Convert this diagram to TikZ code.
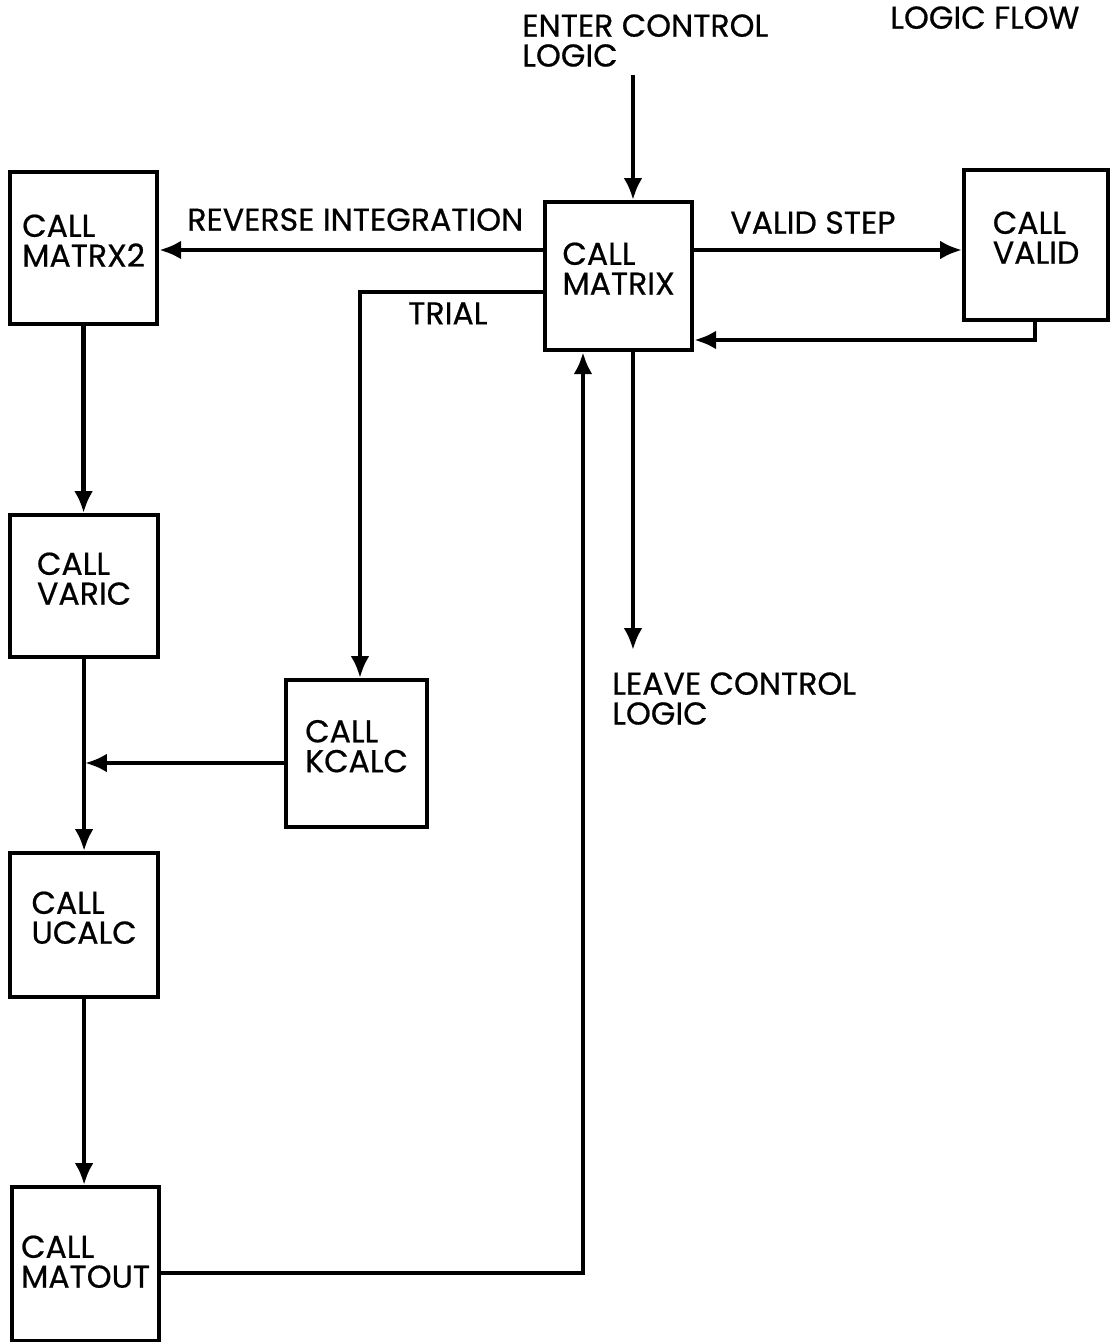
\documentclass[tikz,border=0pt]{standalone}
\usepackage{fontspec}
\setmainfont{Poppins}[FakeBold=0.6]
\usetikzlibrary{arrows.meta}

\begin{document}
\begin{tikzpicture}[
  x=0.02cm, y=-0.02cm,
  callbox/.style={
    rectangle,
    draw,
    line width=2.4pt,
    anchor=north west,
    align=left,
    text depth=0.3cm,
    font=\fontsize{18}{17}\selectfont
  },
  flow/.style={
    line width=2.6pt,
    -{Latex[length=0.44cm,width=0.38cm]}
  },
  flowtext/.style={
    anchor=north west,
    align=left,
    inner sep=0pt,
    font=\fontsize{18}{17}\selectfont
  }
]
  \useasboundingbox (0,0) rectangle (1110,1342);

  % the boxes
  \node[callbox, minimum width=2.94cm, minimum height=3.04cm] (matrx2) at (8,170) {CALL\\MATRX2};
  \node[callbox, minimum width=2.94cm, minimum height=2.96cm] (matrix) at (543,200) {CALL\\MATRIX};
  \node[callbox, minimum width=2.88cm, minimum height=3cm] (valid) at (962,168) {CALL\\VALID};
  \node[callbox, minimum width=2.96cm, minimum height=2.84cm] (varic) at (8,513) {CALL\\VARIC};
  \node[callbox, minimum width=2.82cm, minimum height=2.94cm] (kcalc) at (284,678) {CALL\\KCALC};
  \node[callbox, minimum width=2.96cm, minimum height=2.88cm] (ucalc) at (8,851) {CALL\\UCALC};
  \node[callbox, minimum width=2.94cm, minimum height=3.08cm, text depth=0.1cm] (matout) at (10,1185) {CALL\\MATOUT};

  % texts
  \node[flowtext] (enter) at (522,14) {ENTER CONTROL\\LOGIC};
  \node[flowtext] (leave) at (612,672) {LEAVE CONTROL\\LOGIC};
  \node[flowtext] (title) at (890,6) {LOGIC FLOW};
  \node[flowtext] (lrev) at (187,208) {REVERSE INTEGRATION};
  \node[flowtext] (lvalid) at (730,211) {VALID STEP};
  \node[flowtext] (ltrial) at (408,302) {TRIAL};

  % rows and columns of the connectors
  \coordinate (rowrev) at (0,250);
  \coordinate (rowtri) at (0,292);
  \coordinate (rowret) at (0,340);
  \coordinate (rowkc) at (0,763);
  \coordinate (rowmo) at (0,1273);
  \coordinate (colin) at (633,75);
  \coordinate (colout) at (633,650);
  \coordinate (colret) at (583,0);
  \coordinate (coltri) at (360,0);

  \draw[flow] (colin) -- (colin |- matrix.north);
  \draw[flow] (matrix.west |- rowrev) -- (matrx2.east |- rowrev);
  \draw[flow] (matrix.east |- rowrev) -- (valid.west |- rowrev);
  \draw[flow] (valid.south -| 1035,0) -- (rowret -| 1035,0) -- (matrix.east |- rowret);
  \draw[flow] (matrix.west |- rowtri) -- (coltri |- rowtri) -- (coltri |- kcalc.north);
  \draw[flow] (colout |- matrix.south) -- (colout);
  \draw[flow] (matrx2.south) -- (matrx2.south |- varic.north);
  \draw[flow] (varic.south) -- (varic.south |- ucalc.north);
  \draw[flow] (kcalc.west |- rowkc) -- (85,763);
  \draw[flow] (ucalc.south) -- (ucalc.south |- matout.north);
  \draw[flow] (matout.east |- rowmo) -- (colret |- rowmo) -- (colret |- matrix.south);
\end{tikzpicture}
\end{document}
